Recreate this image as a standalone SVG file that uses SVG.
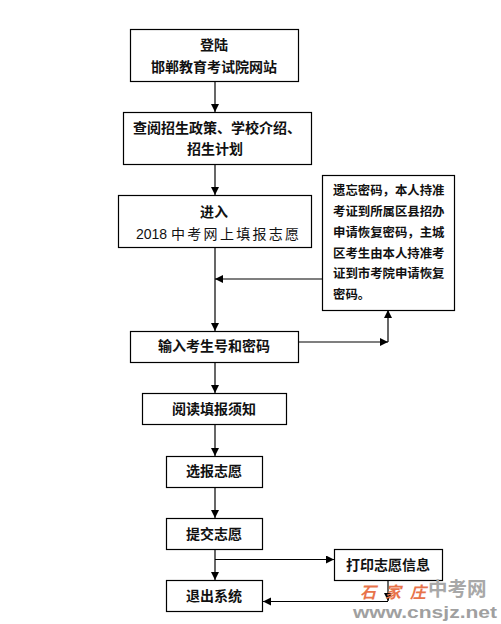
<svg xmlns="http://www.w3.org/2000/svg" width="501" height="624" viewBox="0 0 501 624">
<style>
.b{fill:#fff;stroke:#000;stroke-width:1.2}
.t{font-family:"Noto Sans CJK SC","Liberation Sans",sans-serif;font-size:14px;font-weight:700;fill:#111;text-anchor:middle}
.s{font-size:12.4px;text-anchor:start}
.c{fill:none;stroke:#000;stroke-width:1.2}
</style>
<defs><marker id="a" markerUnits="userSpaceOnUse" markerWidth="9" markerHeight="9" refX="8" refY="4" orient="auto"><path d="M0 0L8 4L0 8Z" fill="#000"/></marker></defs>
<rect width="501" height="624" fill="#fff"/>
<g id="connectors">
<path class="c" marker-end="url(#a)" d="M215 81V112"/>
<path class="c" marker-end="url(#a)" d="M215 164V195"/>
<path class="c" marker-end="url(#a)" d="M215 247V331"/>
<path class="c" marker-end="url(#a)" d="M322 279H215"/>
<path class="c" marker-end="url(#a)" d="M298 342H388"/>
<path class="c" marker-end="url(#a)" d="M388 342V310"/>
<path class="c" marker-end="url(#a)" d="M215 362V393"/>
<path class="c" marker-end="url(#a)" d="M215 424V456"/>
<path class="c" marker-end="url(#a)" d="M215 487V518"/>
<path class="c" marker-end="url(#a)" d="M215 549V580"/>
<path class="c" marker-end="url(#a)" d="M215 559.500H334"/>
<path class="c" marker-end="url(#a)" d="M388 580V601"/>
<path class="c" marker-end="url(#a)" d="M388 601.500H263"/>
</g>
<g id="n1"><rect class="b" x="130.500" y="29.500" width="168" height="52"/><text class="t" x="214" y="50">登陆</text><text class="t" x="214" y="72">邯郸教育考试院网站</text></g>
<g id="n2"><rect class="b" x="123.500" y="112.500" width="188" height="52"/><text class="t" x="217" y="133">查阅招生政策、学校介绍、</text><text class="t" x="215" y="154">招生计划</text></g>
<g id="n3"><rect class="b" x="118.500" y="195.500" width="193" height="52"/><text class="t" x="214" y="217">进入</text><text class="t" x="136" y="239" style="text-anchor:start;font-weight:400"><tspan font-family="Liberation Sans">2018</tspan><tspan x="171" letter-spacing="2.300">中考网上填报志愿</tspan></text></g>
<g id="n4"><rect class="b" x="322.500" y="175.500" width="132" height="135"/>
<text class="t s" x="333" y="195">遗忘密码，本人持准</text>
<text class="t s" x="333" y="216">考证到所属区县招办</text>
<text class="t s" x="333" y="237">申请恢复密码，主城</text>
<text class="t s" x="333" y="258">区考生由本人持准考</text>
<text class="t s" x="333" y="278">证到市考院申请恢复</text>
<text class="t s" x="333" y="299">密码。</text></g>
<g id="n5"><rect class="b" x="130.500" y="331.500" width="168" height="31"/><text class="t" x="214" y="351">输入考生号和密码</text></g>
<g id="n6"><rect class="b" x="142.500" y="393.500" width="144" height="31"/><text class="t" x="214" y="414">阅读填报须知</text></g>
<g id="n7"><rect class="b" x="166.500" y="456.500" width="96" height="31"/><text class="t" x="214" y="476">选报志愿</text></g>
<g id="n8"><rect class="b" x="166.500" y="518.500" width="96" height="31"/><text class="t" x="214" y="539">提交志愿</text></g>
<g id="n9"><rect class="b" x="334.500" y="549.500" width="108" height="31"/><text class="t" x="388" y="570">打印志愿信息</text></g>
<g id="n10"><rect class="b" x="166.500" y="580.500" width="96" height="31"/><text class="t" x="214" y="601">退出系统</text></g>
<g id="watermark">
<text x="360" y="598" font-family="Noto Sans CJK SC,sans-serif" font-size="16" font-style="italic" font-weight="700" fill="#e8734a" textLength="66" lengthAdjust="spacing">石家庄</text>
<text x="428" y="596" font-family="Noto Sans CJK SC,sans-serif" font-size="19.500" font-weight="700" fill="#a8a8a8">中考网</text>
<text x="353" y="618" font-family="Liberation Sans,sans-serif" font-size="17" font-weight="700" fill="#a0a0a0" textLength="144" lengthAdjust="spacingAndGlyphs">www.cnsjz.net</text>
</g>
</svg>
